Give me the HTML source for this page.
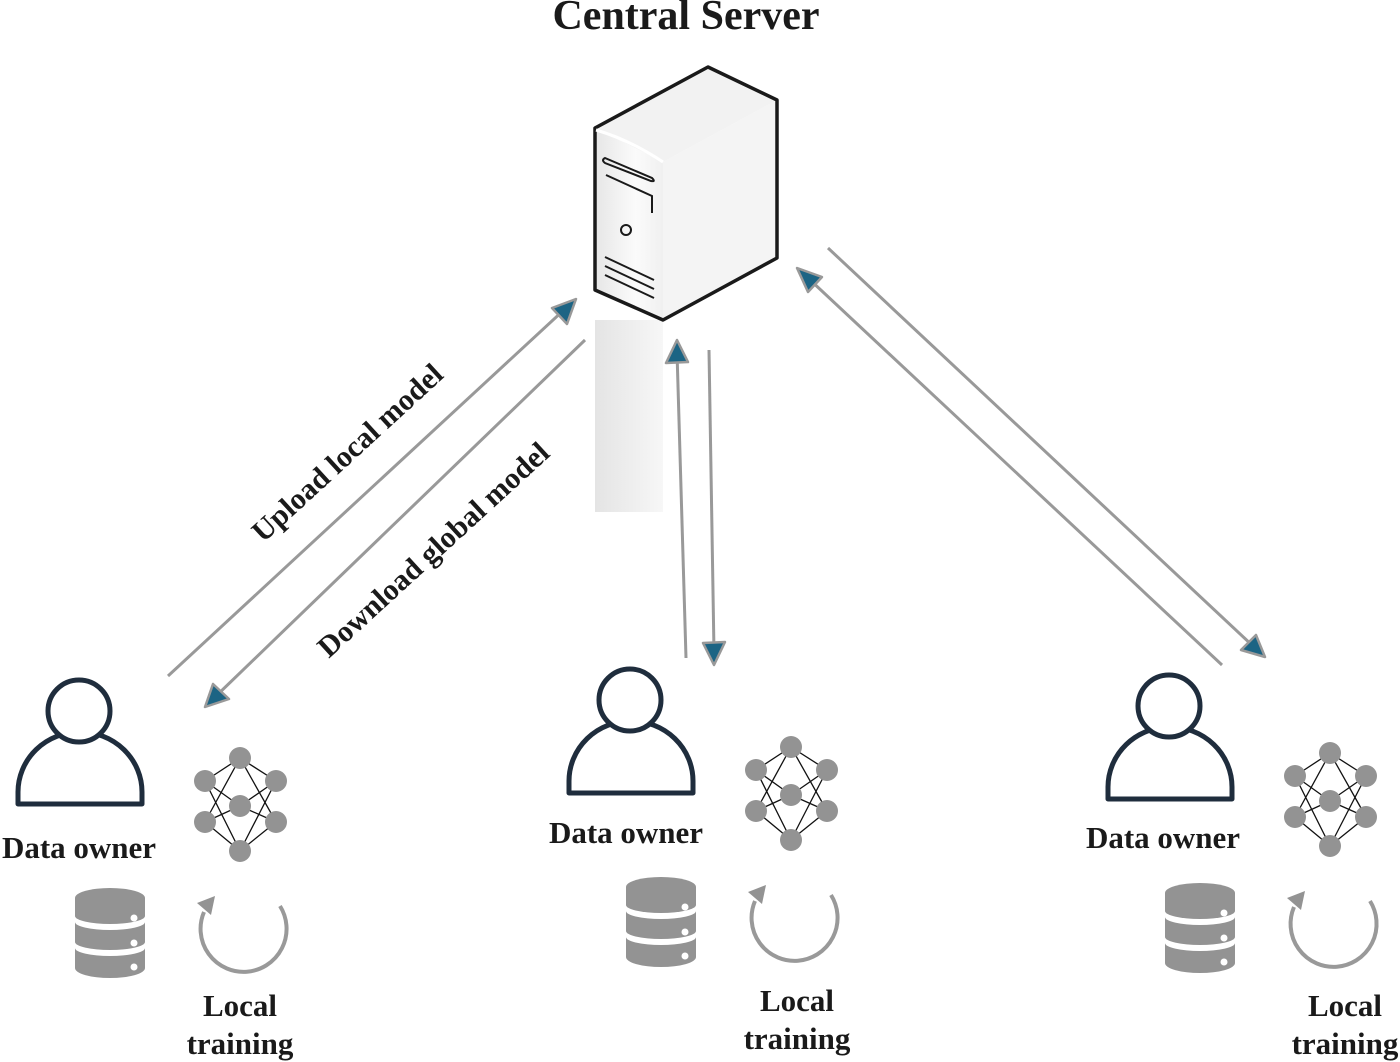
<!DOCTYPE html>
<html><head><meta charset="utf-8"><style>
html,body{margin:0;padding:0;background:#fff;}
svg{display:block;}
text{font-family:"Liberation Serif",serif;font-weight:bold;fill:#1a1a1a;}
</style></head><body>
<svg width="1400" height="1062" viewBox="0 0 1400 1062" xmlns="http://www.w3.org/2000/svg">
<defs>
<linearGradient id="gr" x1="0" x2="1" y1="0" y2="0">
<stop offset="0" stop-color="#e4e4e4"/><stop offset="1" stop-color="#f7f7f7"/></linearGradient>
<linearGradient id="fr" x1="0" x2="1" y1="0" y2="0">
<stop offset="0" stop-color="#e6e6e6"/><stop offset="0.6" stop-color="#fbfbfb"/><stop offset="1" stop-color="#f0f0f0"/></linearGradient>
<g id="client">
<path d="M18 804 L18 792 A62 60 0 0 1 142 792 L142 804 Z" fill="none" stroke="#1f2d3d" stroke-width="5" stroke-linejoin="round"/>
<circle cx="79" cy="711" r="31" fill="#fff" stroke="#1f2d3d" stroke-width="5"/>
<g stroke="#111" stroke-width="1.3">
<line x1="205" y1="781" x2="240" y2="758"/><line x1="205" y1="781" x2="240" y2="806"/><line x1="205" y1="781" x2="240" y2="851"/>
<line x1="205" y1="822" x2="240" y2="758"/><line x1="205" y1="822" x2="240" y2="806"/><line x1="205" y1="822" x2="240" y2="851"/>
<line x1="276" y1="781" x2="240" y2="758"/><line x1="276" y1="781" x2="240" y2="806"/><line x1="276" y1="781" x2="240" y2="851"/>
<line x1="276" y1="822" x2="240" y2="758"/><line x1="276" y1="822" x2="240" y2="806"/><line x1="276" y1="822" x2="240" y2="851"/>
</g>
<g fill="#939393">
<circle cx="205" cy="781" r="11"/><circle cx="205" cy="822" r="11"/><circle cx="240" cy="758" r="11"/><circle cx="240" cy="806" r="11"/><circle cx="240" cy="851" r="11"/><circle cx="276" cy="781" r="11"/><circle cx="276" cy="822" r="11"/>
</g>
<g fill="#939393">
<path d="M75 898 A35 10 0 0 1 145 898 L145 916 A35 8 0 0 1 75 916 Z"/>
<path d="M75 922 A35 8 0 0 0 145 922 L145 942 A35 8 0 0 1 75 942 Z"/>
<path d="M75 948 A35 8 0 0 0 145 948 L145 968 A35 10 0 0 1 75 968 Z"/>
</g>
<g fill="#fff"><circle cx="134" cy="918" r="3.5"/><circle cx="134" cy="943" r="3.5"/><circle cx="134" cy="967" r="3.5"/></g>
<path d="M280 906 A43 43 0 1 1 204 912" fill="none" stroke="#999" stroke-width="4"/>
<polygon points="197,903 215,896 211,915" fill="#939393"/>
</g>
</defs>
<text x="686" y="29" font-size="42" text-anchor="middle">Central Server</text>
<rect x="595" y="320" width="68" height="192" fill="url(#gr)"/>
<polygon points="595,128 708,67 777,100 663,162" fill="#f2f2f2"/>
<polygon points="663,162 777,100 777,258 663,320" fill="#f4f4f4"/>
<polygon points="595,128 663,162 663,320 595,290" fill="url(#fr)"/>
<polygon points="595,128 708,67 777,100 777,258 663,320 595,290" fill="none" stroke="#1a1a1a" stroke-width="3.5" stroke-linejoin="round"/>
<path d="M596 130 Q630 140 663 162" fill="none" stroke="#fff" stroke-width="3"/>
<g fill="none" stroke="#1a1a1a" stroke-width="2">
<path d="M605 158 L652 178 Q656 182 651 181 L605 163 Q601 160 605 158Z"/>
<path d="M606 175 L652 196 L652 213"/>
<circle cx="626" cy="230" r="5"/>
<line x1="605" y1="257" x2="654" y2="280"/><line x1="605" y1="266" x2="654" y2="289"/><line x1="605" y1="275" x2="654" y2="298"/>
</g>
<g stroke="#999" stroke-width="3" fill="none">
<line x1="168" y1="676" x2="566" y2="308"/>
<line x1="585" y1="340" x2="214" y2="698"/>
<line x1="686" y1="658" x2="677" y2="352"/>
<line x1="709" y1="350" x2="714" y2="652"/>
<line x1="1222" y1="665" x2="808" y2="278"/>
<line x1="828" y1="248" x2="1254" y2="647"/>
</g>
<g fill="#1c6484" stroke="#999" stroke-width="2.5" stroke-linejoin="round">
<polygon points="576,299 552,308 567,324"/>
<polygon points="205,707 229,699 213,684"/>
<polygon points="677,340 666,363 688,362"/>
<polygon points="714,665 703,643 725,642"/>
<polygon points="797,268 808,292 822,277"/>
<polygon points="1265,657 1241,650 1256,635"/>
</g>
<text font-size="30" transform="translate(354,460) rotate(-42.5)" text-anchor="middle">Upload local model</text>
<text font-size="30" transform="translate(440,557) rotate(-42.5)" text-anchor="middle">Download global model</text>
<use href="#client"/>
<use href="#client" transform="translate(551,-11)"/>
<use href="#client" transform="translate(1090,-5)"/>
<g font-size="31" text-anchor="middle">
<text x="79" y="858">Data owner</text>
<text x="626" y="843">Data owner</text>
<text x="1163" y="848">Data owner</text>
<text x="240" y="1016">Local</text><text x="240" y="1054">training</text>
<text x="797" y="1011">Local</text><text x="797" y="1049">training</text>
<text x="1345" y="1016">Local</text><text x="1345" y="1054">training</text>
</g>
</svg>
</body></html>
